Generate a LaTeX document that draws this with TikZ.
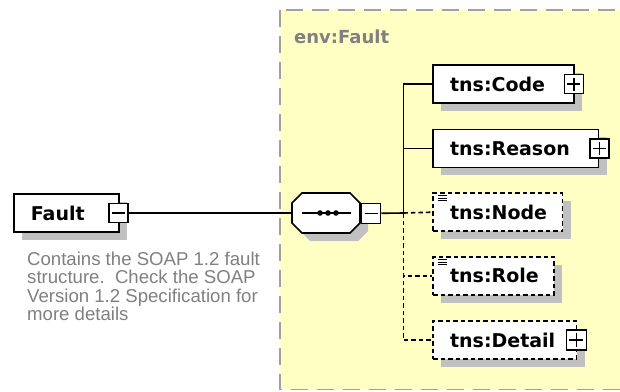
\documentclass[tikz,border=0pt]{standalone}
\usepackage{fontspec}
\newfontfamily\djv{DejaVu Sans}
\newfontfamily\lib{Liberation Sans}
\usetikzlibrary{shadows,calc}
\definecolor{envyellow}{RGB}{255,255,196}
\definecolor{envborder}{RGB}{160,160,160}
\definecolor{shadowgray}{RGB}{192,192,192}
\definecolor{labelgray}{RGB}{128,128,128}
\definecolor{descgray}{RGB}{128,128,128}
\begin{document}
\begin{tikzpicture}[x=1pt,y=-1pt,
  elembase/.style={draw, fill=white, line width=1.6pt, minimum height=38pt,
    inner xsep=17pt, inner ysep=0pt, align=left, anchor=west,
    font=\djv\bfseries\fontsize{19}{22}\selectfont,
    drop shadow={shadow xshift=8pt, shadow yshift=-8pt, opacity=1, fill=shadowgray}},
  elem/.style={elembase, text width=#1},
  optelem/.style={elembase, text width=#1, dash pattern=on 4.5pt off 3pt},
  pmbox/.style={draw, fill=white, line width=1.5pt, minimum width=19pt, minimum height=19pt, inner sep=0pt},
  plusbox/.style={pmbox, path picture={
      \draw[line width=1.5pt] ([xshift=3pt]path picture bounding box.west) -- ([xshift=-3pt]path picture bounding box.east);
      \draw[line width=1.5pt] ([yshift=-3pt]path picture bounding box.north) -- ([yshift=3pt]path picture bounding box.south);}},
  minusbox/.style={pmbox, path picture={
      \draw[line width=1.5pt] ([xshift=3pt]path picture bounding box.west) -- ([xshift=-3pt]path picture bounding box.east);}},
  conn/.style={line width=1.6pt},
  optconn/.style={line width=1.6pt, dash pattern=on 4.5pt off 3pt},
  listicon/.style={line width=0.9pt}
]
\useasboundingbox (0,0) rectangle (620,391);
\clip (0,0) rectangle (620,391);
\fill[white] (0,0) rectangle (620,391);

% env:Fault complex type area
\draw[fill=envyellow, draw=envborder, line width=1.6pt, dash pattern=on 17pt off 9pt] (280,10) rectangle (640,389.5);
\node[anchor=base west, inner sep=0pt, text=labelgray, font=\djv\bfseries\fontsize{18}{20}\selectfont] (envlbl) at (294,43.3) {env:Fault};

% root element
\node[elem=71pt] (Fault) at (13,213) {Fault};
\node[minusbox] (fm) at ([xshift=-1pt]Fault.east) {};
\node[anchor=north west, inner sep=0pt, align=left, text=descgray,
      font=\lib\fontsize{18.6}{18.5}\selectfont] (desc) at (27,251.5)
  {Contains the SOAP 1.2 fault\\structure.\ \ Check the SOAP\\Version 1.2 Specification for\\more details};

% sequence compositor
\fill[shadowgray] (300,211) -- (310,201) -- (358,201) -- (368,211) -- (368,231) -- (358,241) -- (310,241) -- (300,231) -- cycle;
\draw[fill=white, line width=1.6pt] (292,203) -- (302,193) -- (350,193) -- (360,203) -- (360,223) -- (350,233) -- (302,233) -- (292,223) -- cycle;
\node[minimum width=68pt, minimum height=40pt, inner sep=0pt] (seq) at (326,213) {};
\draw[line width=1.6pt] (302,213) -- (351,213);
\foreach \px in {320,328,336} \fill (\px,213) circle (2.8pt);
\node[minusbox, minimum height=20pt] (sm) at (371,213.3) {};
\coordinate (bus) at (403.3,213);

% child elements
\node[elem=107pt] (Code) at (432.3,84.2) {tns:Code};
\node[plusbox] (cp) at ([xshift=-1pt]Code.east) {};
\node[elem=131.4pt] (Reason) at (432.3,148.3) {tns:Reason};
\node[plusbox] (rp) at (Reason.east) {};
\node[optelem=95.4pt] (Node) at (432.3,212.2) {tns:Node};
\node[optelem=87pt] (Role) at (432.3,275.9) {tns:Role};
\node[optelem=109.4pt] (Detail) at (432.3,340) {tns:Detail};
\node[plusbox, minimum width=20pt, minimum height=20pt] (dp) at ([xshift=-1pt]Detail.east) {};

% list icons
\foreach \dy in {0,2.5,5} {
  \draw[listicon] ($(Node.north west)+(6,3.5+\dy)$) -- ++(9,0);
  \draw[listicon] ($(Role.north west)+(6,3.5+\dy)$) -- ++(9,0);
}

% connectors
\draw[conn] (fm.east) -- (seq.west);
\draw[conn] (sm.east) -- (bus);
\draw[conn] (Code.west) -| (bus);
\draw[conn] (Reason.west) -- (Reason.west -| bus);
\draw[optconn] (bus) -- (Node.west);
\draw[optconn] (bus) |- (Role.west);
\draw[optconn] (bus) |- (Detail.west);
\end{tikzpicture}
\end{document}
